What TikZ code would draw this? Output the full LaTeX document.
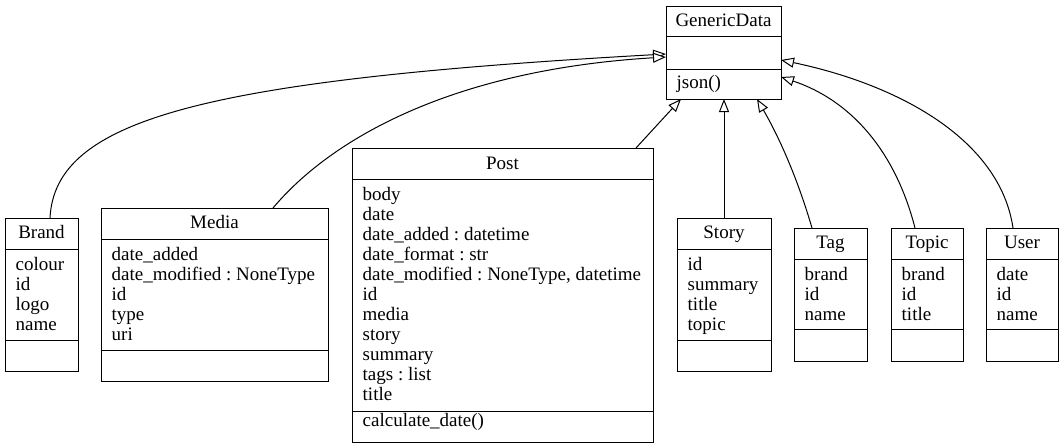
\documentclass[tikz,border=0pt]{standalone}
\usepackage{fontspec}
\setmainfont{Liberation Serif}
\frenchspacing
\usetikzlibrary{arrows.meta,calc}
\begin{document}
\begin{tikzpicture}[x=1pt,y=-1pt,
  cls/.style={draw=black, line width=1pt, fill=white, anchor=north west, inner sep=0pt, outer sep=0pt},
  txt/.style={anchor=base west, inner sep=0pt, font=\fontsize{19}{20}\selectfont},
  ttl/.style={anchor=base, inner sep=0pt, font=\fontsize{19}{20}\selectfont},
  sepline/.style={line width=1pt},
  inh/.style={line width=1pt, -{Triangle[open, length=13pt, width=10pt, fill=white]}}]
\useasboundingbox (0,0) rectangle (1064,447);

% GenericData
\node[cls, minimum width=115pt, minimum height=93pt] (gen) at (666,6) {};
\draw[sepline] (666,36) -- (781,36);
\draw[sepline] (666,69) -- (781,69);
\node[ttl] (genT) at (723.5,26) {GenericData};
\node[txt] (genM) at (676.5,88.5) {json()};

% Brand
\node[cls, minimum width=73pt, minimum height=153pt] (brand) at (5,218) {};
\draw[sepline] (5,249) -- (78,249);
\draw[sepline] (5,340) -- (78,340);
\node[ttl] (brandT) at (41.5,238.5) {Brand};
\foreach \t [count=\i] in {colour,id,logo,name}
  \node[txt] (brand-a\i) at (15.5,250.5+20*\i) {\t};

% Media
\node[cls, minimum width=227pt, minimum height=173pt] (media) at (101,208) {};
\draw[sepline] (101,239) -- (328,239);
\draw[sepline] (101,350) -- (328,350);
\node[ttl] (mediaT) at (214.5,228.5) {Media};
\foreach \t [count=\i] in {date\_added,date\_modified : NoneType,id,type,uri}
  \node[txt] (media-a\i) at (111.5,240.5+20*\i) {\t};

% Post
\node[cls, minimum width=301pt, minimum height=294pt] (post) at (352,148) {};
\draw[sepline] (352,179) -- (653,179);
\draw[sepline] (352,411) -- (653,411);
\node[ttl] (postT) at (502.5,169) {Post};
\foreach \t [count=\i] in {body,date,date\_added : datetime,date\_format : str,{date\_modified : NoneType, datetime},id,media,story,summary,tags : list,title}
  \node[txt] (post-a\i) at (362.5,180.5+20*\i) {\t};
\node[txt] (postM) at (362.5,426.5) {calculate\_date()};

% Story
\node[cls, minimum width=94pt, minimum height=153pt] (story) at (677,218) {};
\draw[sepline] (677,249) -- (771,249);
\draw[sepline] (677,340) -- (771,340);
\node[ttl] (storyT) at (724,238.5) {Story};
\foreach \t [count=\i] in {id,summary,title,topic}
  \node[txt] (story-a\i) at (687.5,250.5+20*\i) {\t};

% Tag
\node[cls, minimum width=73pt, minimum height=133pt] (tag) at (794,228) {};
\draw[sepline] (794,259) -- (867,259);
\draw[sepline] (794,329) -- (867,329);
\node[ttl] (tagT) at (830.5,248.5) {Tag};
\foreach \t [count=\i] in {brand,id,name}
  \node[txt] (tag-a\i) at (804.5,260.5+20*\i) {\t};

% Topic
\node[cls, minimum width=72pt, minimum height=133pt] (topic) at (891,228) {};
\draw[sepline] (891,259) -- (963,259);
\draw[sepline] (891,329) -- (963,329);
\node[ttl] (topicT) at (927,248.5) {Topic};
\foreach \t [count=\i] in {brand,id,title}
  \node[txt] (topic-a\i) at (901.5,260.5+20*\i) {\t};

% User
\node[cls, minimum width=72pt, minimum height=133pt] (user) at (986,228) {};
\draw[sepline] (986,259) -- (1058,259);
\draw[sepline] (986,329) -- (1058,329);
\node[ttl] (userT) at (1022,248.5) {User};
\foreach \t [count=\i] in {date,id,name}
  \node[txt] (user-a\i) at (996.5,260.5+20*\i) {\t};

% inheritance connectors
\draw[inh] ($(brand.north west)+(45,0)$) .. controls (55,120) and (200,80) .. ($(gen.north west)+(0,48)$);
\draw[inh] ($(media.north west)+(172,0)$) .. controls (330,140) and (450,70) .. ($(gen.north west)+(0,51)$);
\draw[inh] ($(post.north west)+(284,0)$) -- ($(gen.south west)+(15,0)$);
\draw[inh] (story.north) -- (gen.south -| story.north);
\draw[inh] ($(tag.north west)+(18,0)$) .. controls (795,170) and (775,130) .. ($(gen.south west)+(91,0)$);
\draw[inh] ($(topic.north west)+(24,0)$) .. controls (895,150) and (850,100) .. ($(gen.north east)+(0,71)$);
\draw[inh] ($(user.north west)+(27,0)$) .. controls (1000,140) and (900,85) .. ($(gen.north east)+(0,54)$);
\end{tikzpicture}
\end{document}
